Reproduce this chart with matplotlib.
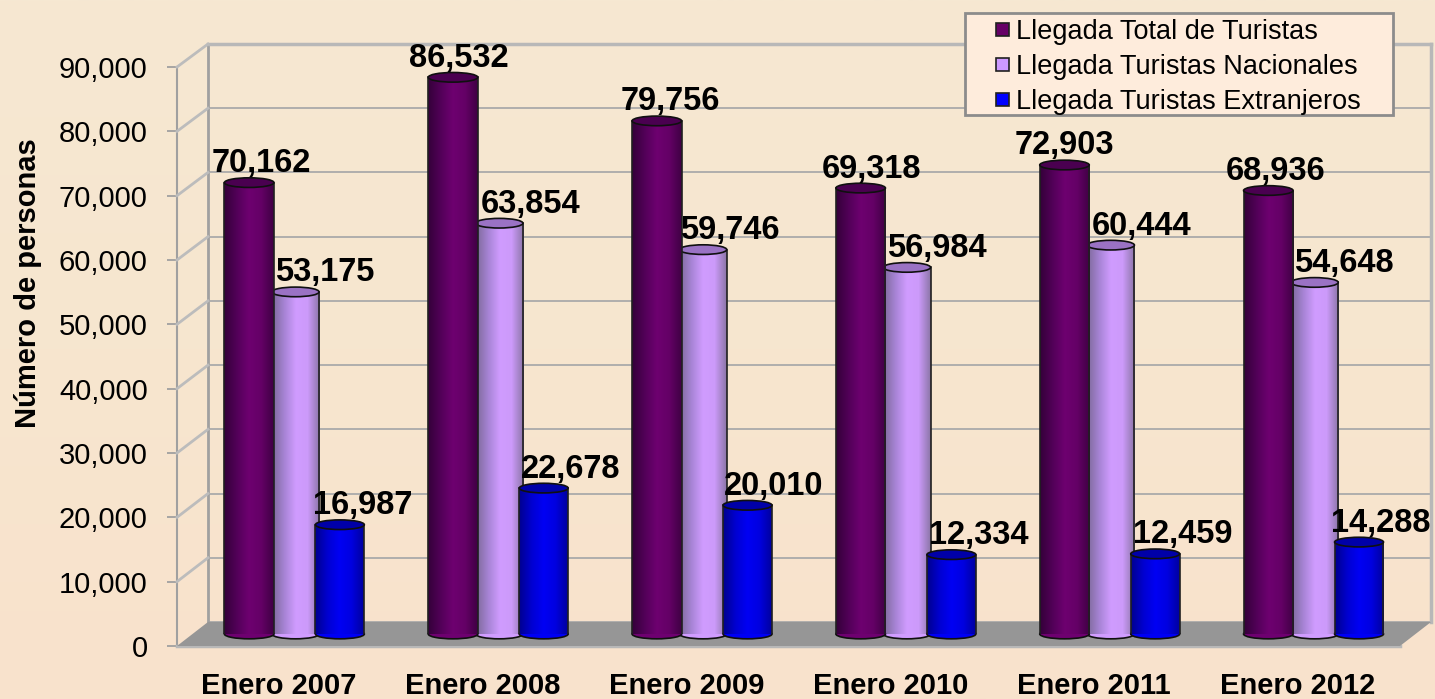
import numpy as np
import matplotlib
matplotlib.use("Agg")
import matplotlib.pyplot as plt
from matplotlib.patches import Ellipse, Polygon, Rectangle
from matplotlib.colors import LinearSegmentedColormap

plt.rcParams['font.family'] = ['Liberation Sans', 'DejaVu Sans']

periods = ["Enero 2007", "Enero 2008", "Enero 2009", "Enero 2010", "Enero 2011", "Enero 2012"]
total = [70162, 86532, 79756, 69318, 72903, 68936]
nacionales = [53175, 63854, 59746, 56984, 60444, 54648]
extranjeros = [16987, 22678, 20010, 12334, 12459, 14288]
legend_labels = ["Llegada Total de Turistas", "Llegada Turistas Nacionales", "Llegada Turistas Extranjeros"]
yticks = [0, 10000, 20000, 30000, 40000, 50000, 60000, 70000, 80000, 90000]

# sideways shift of each value label from its bar centre, in pixels
total_dx = [12, 6, 13, 11, 0, 7]
nacionales_dx = [29, 31, 27, 30, 31, 29]
extranjeros_dx = [23, 27, 26, 27, 28, 22]

W, H = 1435, 699


def make_axes(x0, x1, y_bottom, y_top, zorder):
    """Axes placed by pixel box, y measured from the top of the picture."""
    ax = fig.add_axes([x0 / W, 1 - y_bottom / H, (x1 - x0) / W, (y_bottom - y_top) / H], zorder=zorder)
    ax.set_xlim(-0.5, 5.5)
    ax.set_ylim(0, 90000)
    ax.patch.set_alpha(0)
    return ax


def cylinder(ax, x, value, width, shades, top_color, z):
    bars = ax.bar(x, value, width, color=shades[1], zorder=z)
    bar = bars[0]
    cmap = LinearSegmentedColormap.from_list("c", shades)
    grad = np.linspace(0, 1, 64).reshape(1, -1)
    left = x - width / 2
    im = ax.imshow(grad, cmap=cmap, extent=[left, left + width, 0, value], aspect='auto', zorder=z)
    im.set_clip_path(bar)
    ax.add_patch(Ellipse((x, 0), width, 1500, facecolor=shades[2], edgecolor='#101010', lw=1.2,
                         zorder=z - 0.1, clip_on=False))
    ax.plot([left, left], [0, value], color='#202020', lw=1.2, zorder=z + 0.1)
    ax.plot([left + width, left + width], [0, value], color='#202020', lw=1.2, zorder=z + 0.1)
    ax.add_patch(Ellipse((x, value), width, 1500, facecolor=top_color, edgecolor='#101010', lw=1.2, zorder=z + 0.2))


def value_label(ax, x, value, dx):
    ax.annotate(f"{value:,}", (x, value), xytext=(dx * 0.72, 19 * 0.72), textcoords='offset points',
                ha='center', va='center', fontsize=23.5, fontweight='bold', zorder=8, annotation_clip=False)


fig = plt.figure(figsize=(W / 100, H / 100), dpi=100)

# background
bg = fig.add_axes([0, 0, 1, 1], zorder=0)
bg.imshow(np.linspace(0, 1, 256).reshape(-1, 1), aspect='auto',
          cmap=LinearSegmentedColormap.from_list("bg", ["#f6e8d2", "#f7e6cf", "#f9e2cc"]))
bg.axis('off')

# back wall
back = make_axes(208, 1431, 622, 44, 1)
back.set_yticks(yticks)
back.set_xticks([])
back.grid(axis='y', color='#aaaaaa', lw=1.3)
back.tick_params(length=0, labelleft=False)
for name in ['right', 'top']:
    back.spines[name].set_color('#b8b8b8')
    back.spines[name].set_linewidth(2.5)
back.spines['left'].set_color('#a0a0a0')
back.spines['left'].set_linewidth(2)
back.spines['bottom'].set_visible(False)

# front plane with the axis and the labels
front = make_axes(177, 1400, 646, 67, 2)
front.set_yticks(yticks)
front.set_yticklabels([f"{v:,}" for v in yticks], fontsize=21)
front.set_xticks(range(6))
front.set_xticklabels(periods, fontsize=21, fontweight='bold')
front.tick_params(axis='y', length=7, width=1.3, color='#a0a0a0', pad=14, labelcolor='black')
front.tick_params(axis='x', length=0, pad=19)
front.set_ylabel("Número de personas", fontsize=21, fontweight='bold')
front.yaxis.set_label_coords((42 - 177) / 1223, (646 - 283) / 579)
for name in ['right', 'top']:
    front.spines[name].set_visible(False)
front.spines['left'].set_color('#a0a0a0')
front.spines['left'].set_linewidth(1.5)
front.spines['bottom'].set_color('#b8b8b8')
front.spines['bottom'].set_linewidth(2.5)

# floor and side wall connectors, in picture pixels
px = fig.add_axes([0, 0, 1, 1], zorder=3)
px.set_xlim(0, W)
px.set_ylim(H, 0)
px.axis('off')
px.add_patch(Polygon([(177, 646), (208, 622), (1431, 622), (1400, 646)], facecolor='#969696', edgecolor='none'))
for v in yticks[1:]:
    yf = 646 - v / 90000 * 579
    yb = 622 - v / 90000 * 578
    px.plot([177, 208], [yf, yb], color='#bcbcbc', lw=2)

# bars
mid = make_axes(192.5, 1415.5, 634, 55, 4)
mid.axis('off')
for i in range(6):
    x_tot, x_nac, x_ext = i - 0.222, i + 0.005, i + 0.223
    cylinder(mid, x_nac, nacionales[i], 0.232, ['#7e6a9a', '#a683d4', '#d09cff', '#cc9afa', '#8c76a8'], '#9a72c4', 3)
    cylinder(mid, x_tot, total[i], 0.243, ['#35003a', '#520058', '#6e0070', '#640066', '#400044'], '#4a0050', 4)
    cylinder(mid, x_ext, extranjeros[i], 0.24, ['#000090', '#0000d0', '#0000f4', '#0000e0', '#0000a0'], '#0000a8', 5)
    value_label(mid, x_tot, total[i], total_dx[i])
    value_label(mid, x_nac, nacionales[i], nacionales_dx[i])
    value_label(mid, x_ext, extranjeros[i], extranjeros_dx[i])

# legend box
box = fig.add_axes([0, 0, 1, 1], zorder=5)
box.set_xlim(0, W)
box.set_ylim(H, 0)
box.axis('off')
box.add_patch(Rectangle((965, 13), 428, 102, facecolor='#feecdc', edgecolor='#8c8c8c', lw=2))
swatches = ['#660066', '#cc99ff', '#0000ff']
for label, color, y in zip(legend_labels, swatches, [30, 65, 100]):
    box.add_patch(Rectangle((996, y - 7), 13, 13, facecolor=color, edgecolor='#202020', lw=1.2))
    box.text(1016, y + 2, label, fontsize=19.5, va='center', ha='left')

fig.savefig("out.png", dpi=100)
